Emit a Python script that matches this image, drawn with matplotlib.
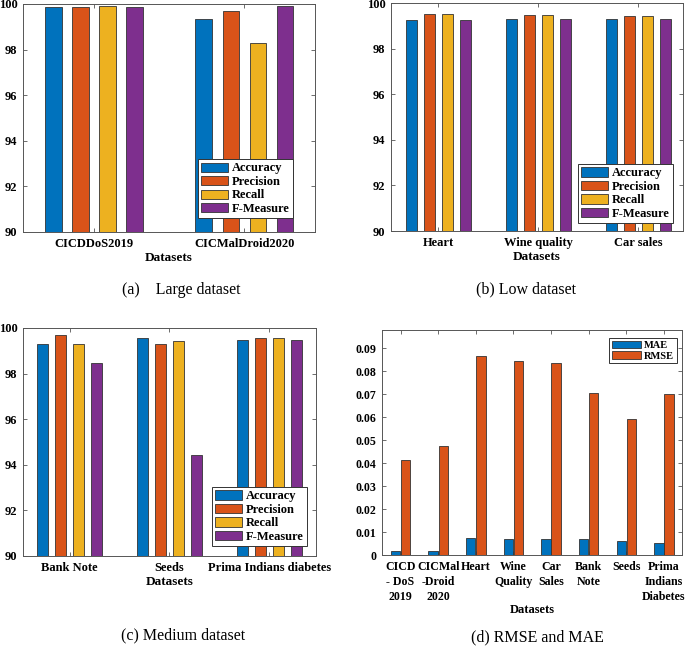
import numpy as np
import matplotlib
matplotlib.use("Agg")
import matplotlib.pyplot as plt

plt.rcParams['font.family'] = ['Liberation Serif', 'DejaVu Serif']
plt.rcParams['font.weight'] = 'bold'

# data
metrics = ["Accuracy", "Precision", "Recall", "F-Measure"]
colors = ["#0072BD", "#D95319", "#EDB120", "#7E2F8E"]

large_names = ["CICDDoS2019", "CICMalDroid2020"]
large_acc = [99.87, 99.33]
large_prec = [99.87, 99.71]
large_rec = [99.90, 98.29]
large_f = [99.87, 99.91]

low_names = ["Heart", "Wine quality", "Car sales"]
low_acc = [99.27, 99.32, 99.32]
low_prec = [99.52, 99.46, 99.41]
low_rec = [99.52, 99.46, 99.41]
low_f = [99.27, 99.32, 99.32]

med_names = ["Bank Note", "Seeds", "Prima Indians diabetes"]
med_acc = [99.28, 99.58, 99.49]
med_prec = [99.68, 99.30, 99.58]
med_rec = [99.30, 99.44, 99.58]
med_f = [98.48, 94.43, 99.49]

err_names = ["CICD\n- DoS\n2019", "CICMal\n-Droid\n2020", "Heart", "Wine\nQuality",
             "Car\nSales", "Bank\nNote", "Seeds", "Prima\nIndians\nDiabetes"]
mae = [0.0017, 0.0017, 0.0075, 0.0071, 0.0070, 0.0070, 0.0061, 0.0051]
rmse = [0.0412, 0.0476, 0.0866, 0.0845, 0.0837, 0.0704, 0.0592, 0.0700]

W, H = 685, 647
fig = plt.figure(figsize=(W / 100, H / 100), dpi=100)


def make_axes(l, r, t, b):
    return fig.add_axes([l / W, 1 - b / H, (r - l) / W, (b - t) / H])


def style(ax, fs):
    for s in ax.spines.values():
        s.set_color("#555555")
        s.set_linewidth(0.7)
    ax.tick_params(direction="in", top=True, right=True, length=3, width=0.6,
                   color="#555555", labelsize=fs, pad=4)
    for lab in ax.get_xticklabels() + ax.get_yticklabels():
        lab.set_fontweight("bold")


def grouped(ax, names, series, xlim, anchor):
    x = np.arange(1, len(names) + 1)
    step = 0.18
    for i, vals in enumerate(series):
        ax.bar(x + (i - 1.5) * step, vals, 0.11, color=colors[i], edgecolor="#333333",
               linewidth=0.6, label=metrics[i], zorder=2)
    ax.set_ylim(90, 100)
    ax.set_yticks(np.arange(90, 101, 2))
    ax.set_xlim(*xlim)
    ax.set_xticks(x, names)
    style(ax, 9)
    ax.set_xlabel("Datasets", fontsize=9.5, fontweight="bold", labelpad=2)
    leg = ax.legend(loc="lower right", bbox_to_anchor=anchor, borderaxespad=0,
                    fancybox=False, framealpha=1, edgecolor="#333333",
                    prop={"weight": "bold", "size": 9}, handlelength=2.2,
                    handleheight=0.75, handletextpad=0.3, labelspacing=0.12,
                    borderpad=0.25)
    leg.get_frame().set_linewidth(0.7)


ax_a = make_axes(23, 315, 4, 232)
grouped(ax_a, large_names, [large_acc, large_prec, large_rec, large_f],
        (0.528, 2.47), (0.925, 0.061))

ax_b = make_axes(391, 683, 3, 231)
grouped(ax_b, low_names, [low_acc, low_prec, low_rec, low_f],
        (0.527, 3.45), (0.966, 0.035))

ax_c = make_axes(23, 316, 328, 556)
grouped(ax_c, med_names, [med_acc, med_prec, med_rec, med_f],
        (0.533, 3.47), (0.969, 0.044))

# (d) RMSE and MAE
ax_d = make_axes(382, 682, 330, 555)
xd = np.arange(1, len(err_names) + 1)
ax_d.bar(xd - 0.135, mae, 0.25, color=colors[0], edgecolor="#333333", linewidth=0.6,
         label="MAE", zorder=2)
ax_d.bar(xd + 0.135, rmse, 0.25, color=colors[1], edgecolor="#333333", linewidth=0.6,
         label="RMSE", zorder=2)
ax_d.set_ylim(0, 0.098)
ax_d.set_yticks(np.arange(0, 0.091, 0.01))
ax_d.set_yticklabels(["0"] + ["%.2f" % v for v in np.arange(0.01, 0.091, 0.01)])
ax_d.set_xlim(0.507, 8.48)
ax_d.set_xticks(xd, err_names, linespacing=1.35, va="top")
style(ax_d, 8.6)
ax_d.tick_params(axis="x", pad=4)
ax_d.set_xlabel("Datasets", fontsize=9, fontweight="bold", labelpad=1)
leg = ax_d.legend(loc="upper right", bbox_to_anchor=(0.983, 0.964), borderaxespad=0,
                  fancybox=False, framealpha=1, edgecolor="#333333",
                  prop={"weight": "bold", "size": 7.5}, handlelength=2.8,
                  handleheight=0.75, handletextpad=0.3, labelspacing=0.12,
                  borderpad=0.25)
leg.get_frame().set_linewidth(0.7)

# captions
cap = dict(fontsize=11.5, fontweight="normal", ha="center", va="center")
fig.text(181 / W, 1 - 290 / H, "(a)    Large dataset", **cap)
fig.text(526 / W, 1 - 289 / H, "(b) Low dataset", **cap)
fig.text(183 / W, 1 - 635 / H, "(c) Medium dataset", **cap)
fig.text(537 / W, 1 - 637 / H, "(d) RMSE and MAE", **cap)

fig.savefig("out.png", dpi=100)
